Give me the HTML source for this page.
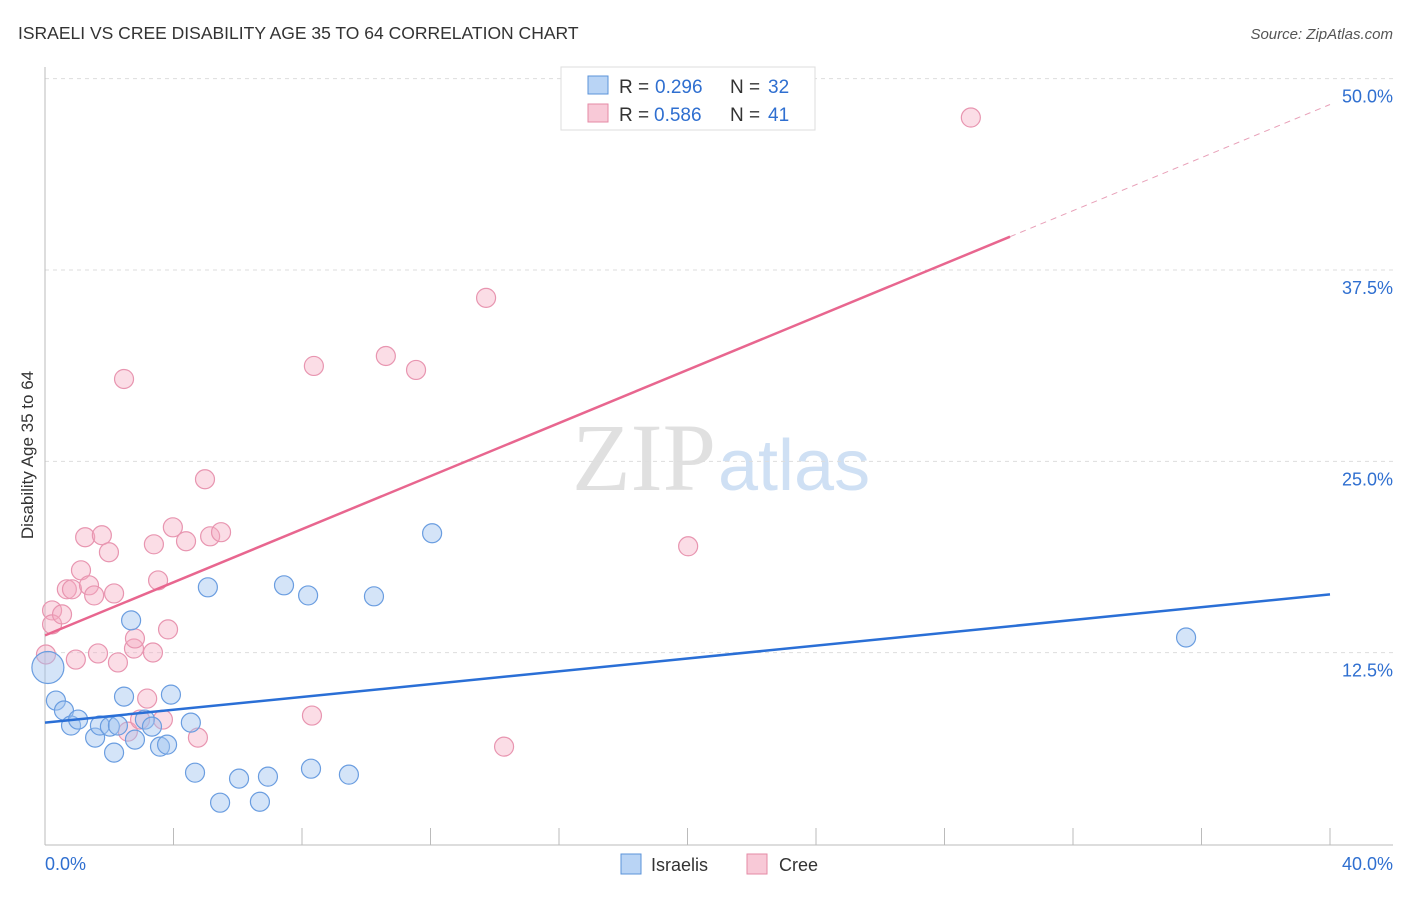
<!DOCTYPE html>
<html><head><meta charset="utf-8"><style>
body{margin:0;background:#fff;font-family:"Liberation Sans",sans-serif}
</style></head><body>
<svg id="c" width="1406" height="892" xmlns="http://www.w3.org/2000/svg" font-family="Liberation Sans, sans-serif">
<text x="18" y="39" font-size="17.5" fill="#333">ISRAELI VS CREE DISABILITY AGE 35 TO 64 CORRELATION CHART</text>
<text x="1393" y="39" font-size="15" fill="#555" font-style="italic" text-anchor="end">Source: ZipAtlas.com</text>
<text x="716" y="490" font-size="96" fill="#e0e0e0" text-anchor="end" font-family="Liberation Serif, serif">ZIP</text>
<text x="718" y="490" font-size="72" fill="#cfe0f4">atlas</text>
<g id="grid"></g><g id="axes"></g><g id="pts"></g><g id="trend"></g>
<text x="33" y="455" font-size="17" fill="#333" text-anchor="middle" transform="rotate(-90 33 455)">Disability Age 35 to 64</text>
<g>
<rect x="561" y="67" width="254" height="63" fill="#fff" stroke="#ddd"/>
<rect x="588" y="76" width="20" height="18" fill="#b9d4f5" stroke="#5b93d9"/>
<text x="619" y="93" font-size="19" fill="#333">R =</text>
<text x="655" y="93" font-size="19" fill="#2f6fd0">0.296</text>
<text x="730" y="93" font-size="19" fill="#333">N =</text>
<text x="768" y="93" font-size="19" fill="#2f6fd0">32</text>
<rect x="588" y="104" width="20" height="18" fill="#f8c9d7" stroke="#e58aa6"/>
<text x="619" y="121" font-size="19" fill="#333">R =</text>
<text x="654" y="121" font-size="19" fill="#2f6fd0">0.586</text>
<text x="730" y="121" font-size="19" fill="#333">N =</text>
<text x="768" y="121" font-size="19" fill="#2f6fd0">41</text>
</g>
<g>
<rect x="621" y="854" width="20" height="20" fill="#b9d4f5" stroke="#5b93d9"/>
<text x="651" y="871" font-size="18" fill="#333">Israelis</text>
<rect x="747" y="854" width="20" height="20" fill="#f8c9d7" stroke="#e58aa6"/>
<text x="779" y="871" font-size="18" fill="#333">Cree</text>
</g>
</svg>
<script>
const isrX=[0.09,0.34,0.59,0.81,1.03,1.56,1.71,2.02,2.15,2.27,2.46,2.68,2.80,3.11,3.33,3.58,3.80,3.92,4.54,4.67,5.07,5.45,6.04,6.69,6.94,7.44,8.19,8.28,9.46,10.24,12.05,35.52];
const isrY=[11.53,9.37,8.72,7.74,8.13,6.95,7.74,7.67,5.97,7.74,9.63,14.61,6.82,8.13,7.67,6.36,6.49,9.76,7.93,4.66,16.77,2.70,4.27,2.76,4.40,16.9,16.24,4.92,4.53,16.18,20.3,13.49];
const creeX=[0.03,0.22,0.22,0.53,0.68,0.84,0.96,1.12,1.25,1.37,1.53,1.65,1.77,1.99,2.15,2.27,2.46,2.58,2.77,2.80,2.96,3.18,3.36,3.39,3.52,3.67,3.83,3.98,4.39,4.76,4.98,5.14,5.48,8.31,8.37,10.61,11.55,13.73,14.29,20.02,28.82];
const creeY=[12.38,15.26,14.35,15.0,16.64,16.64,12.05,17.88,20.04,16.9,16.24,12.45,20.17,19.06,16.37,11.86,30.38,7.34,12.77,13.43,8.13,9.5,12.51,19.58,17.22,8.13,14.02,20.69,19.78,6.95,23.83,20.1,20.37,8.39,31.23,31.88,30.97,35.68,6.36,19.45,47.46];
const yTicks=[12.5,25,37.5,50];
const yTickLabels=["12.5%","25.0%","37.5%","50.0%"];
const xTicks=[0,4,8,12,16,20,24,28,32,36,40];
const blueTrend=[7.93,16.31];
const pinkIntercept=13.63, pinkSlope=0.867, pinkSolidEnd=30.04;
const sx=v=>45+v*1285/40, sy=v=>844-v*15.307;
const NS="http://www.w3.org/2000/svg";
function mk(p,t,a){const e=document.createElementNS(NS,t);for(const k in a)e.setAttribute(k,a[k]);document.getElementById(p).appendChild(e);return e;}
yTicks.forEach((t,i)=>{
 const l=mk('grid','line',{x1:45,x2:1393,y1:sy(t),y2:sy(t),stroke:'#ddd','stroke-dasharray':'4,4'});
 
 
 const tx=mk('grid','text',{x:1393,y:sy(t)+24,'font-size':18,fill:'#2f6fd0','text-anchor':'end'});
 tx.textContent=yTickLabels[i];
 
 
});
let a=mk('axes','line',{x1:45,x2:45,y1:67,y2:845,stroke:'#bbb'});


a=mk('axes','line',{x1:45,x2:1393,y1:845,y2:845,stroke:'#bbb'});


xTicks.forEach(t=>{const l=mk('axes','line',{x1:sx(t),x2:sx(t),y1:828,y2:845,stroke:'#bbb'});
 
 });
let t0=mk('axes','text',{x:45,y:870,'font-size':18,fill:'#2f6fd0'});t0.textContent='0.0%';


t0=mk('axes','text',{x:1393,y:870,'font-size':18,fill:'#2f6fd0','text-anchor':'end'});t0.textContent='40.0%';


creeX.forEach((x,i)=>{const c=mk('pts','circle',{cx:sx(x),cy:sy(creeY[i]),r:9.5,fill:'rgba(244,170,193,0.4)',stroke:'#e895b0','stroke-width':1.2});
 
 });
isrX.forEach((x,i)=>{const c=mk('pts','circle',{cx:sx(x),cy:sy(isrY[i]),r:i===0?16:9.5,fill:'rgba(160,196,240,0.45)',stroke:'#6a9de0','stroke-width':1.2});
 
 });
let l=mk('trend','line',{x1:sx(0),x2:sx(40),y1:sy(blueTrend[0]),y2:sy(blueTrend[1]),stroke:'#2a6fd6','stroke-width':2.5});


l=mk('trend','line',{x1:sx(0),x2:sx(pinkSolidEnd),y1:sy(pinkIntercept),y2:sy(pinkIntercept+pinkSlope*pinkSolidEnd),stroke:'#e8668f','stroke-width':2.5});


l=mk('trend','line',{x1:sx(pinkSolidEnd),x2:sx(40),y1:sy(pinkIntercept+pinkSlope*pinkSolidEnd),y2:sy(pinkIntercept+pinkSlope*40),stroke:'#e8a0b8','stroke-width':1,'stroke-dasharray':'6,5'});


</script>
</body></html>
